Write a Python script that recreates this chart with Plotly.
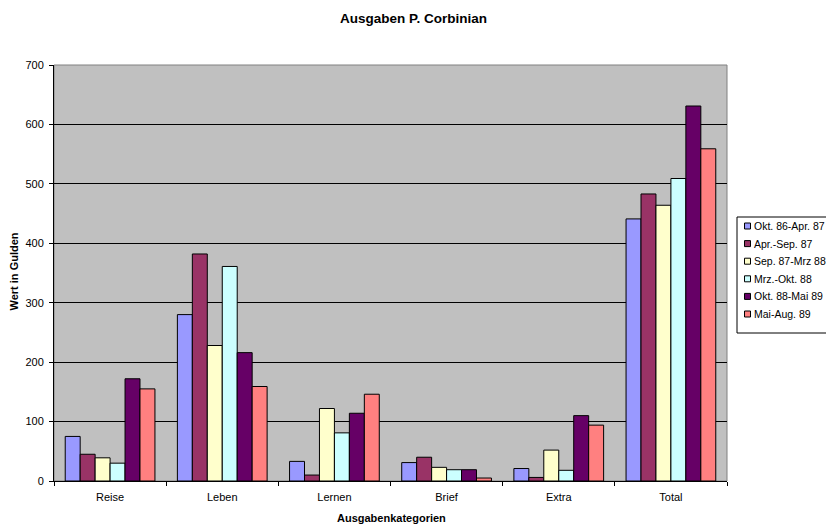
import plotly.graph_objects as go

categories = ["Reise", "Leben", "Lernen", "Brief", "Extra", "Total"]
series_names = ["Okt. 86-Apr. 87", "Apr.-Sep. 87", "Sep. 87-Mrz 88",
                "Mrz.-Okt. 88", "Okt. 88-Mai 89", "Mai-Aug. 89"]
okt86_apr87 = [75, 280, 33, 31, 21, 441]
apr_sep87 = [45, 382, 10, 40, 6, 483]
sep87_mrz88 = [39, 228, 122, 23, 52, 464]
mrz_okt88 = [30, 361, 81, 19, 18, 509]
okt88_mai89 = [172, 216, 114, 19, 110, 631]
mai_aug89 = [155, 159, 146, 5, 94, 559]
series_values = [okt86_apr87, apr_sep87, sep87_mrz88, mrz_okt88, okt88_mai89, mai_aug89]
colors = ["#9999FF", "#993366", "#FFFFCC", "#CCFFFF", "#660066", "#FF8080"]
y_ticks = [0, 100, 200, 300, 400, 500, 600, 700]

W, H = 826, 524
L, R, T, B = 54, 727, 65, 481
FONT = "Arial, Liberation Sans, sans-serif"

fig = go.Figure()
for name, vals, col in zip(series_names, series_values, colors):
    fig.add_trace(go.Bar(
        x=categories, y=vals, name=name,
        marker=dict(color=col, line=dict(color="black", width=1)),
        showlegend=False,
    ))

shapes = []
annotations = []
# plot area border (gray top/right)
shapes.append(dict(type="rect", xref="paper", yref="paper", x0=0, x1=1, y0=0, y1=1,
                   line=dict(color="#808080", width=1), fillcolor="rgba(0,0,0,0)", layer="below"))

# custom legend (container pixel positions converted to paper)
def px_x(px):
    return (px - L) / (R - L)

def px_y(py):
    return (B - py) / (B - T)

shapes.append(dict(type="rect", xref="paper", yref="paper",
                   x0=px_x(737), x1=px_x(840), y0=px_y(333), y1=px_y(217),
                   line=dict(color="black", width=1), fillcolor="white"))
row0, dy = 226, 17.6
for i, (name, col) in enumerate(zip(series_names, colors)):
    cy = row0 + i * dy
    shapes.append(dict(type="rect", xref="paper", yref="paper",
                       x0=px_x(744.5), x1=px_x(750.5), y0=px_y(cy + 3), y1=px_y(cy - 3),
                       line=dict(color="black", width=1), fillcolor=col))
    annotations.append(dict(xref="paper", yref="paper", x=px_x(752), y=px_y(cy),
                            xanchor="left", yanchor="middle", text=name, showarrow=False,
                            font=dict(family=FONT, size=10.5, color="black")))

# axis titles
annotations.append(dict(xref="paper", yref="paper", x=px_x(391), y=px_y(518),
                        xanchor="center", yanchor="middle", showarrow=False,
                        text="<b>Ausgabenkategorien</b>",
                        font=dict(family=FONT, size=11, color="black")))
annotations.append(dict(xref="paper", yref="paper", x=px_x(13.5), y=px_y(272),
                        xanchor="center", yanchor="middle", showarrow=False, textangle=-90,
                        text="<b>Wert in Gulden</b>",
                        font=dict(family=FONT, size=11, color="black")))

fig.update_layout(
    width=W, height=H,
    margin=dict(l=L, r=W - R, t=T, b=H - B, pad=0),
    paper_bgcolor="white", plot_bgcolor="#C0C0C0",
    barmode="group", bargap=0.2, bargroupgap=0,
    font=dict(family=FONT, size=11, color="black"),
    title=dict(text="<b>Ausgaben P. Corbinian</b>", x=px_x(413.5) * 0 + 413.5 / W, xref="container",
               y=1 - 18 / H, yref="container", xanchor="center", yanchor="middle",
               font=dict(family=FONT, size=13.5, color="black")),
    xaxis=dict(
        type="category", showline=True, linecolor="black", linewidth=1,
        ticks="outside", tickson="boundaries", ticklen=4, tickcolor="black",
        showgrid=False, ticklabelstandoff=6, automargin=False,
        tickfont=dict(family=FONT, size=11, color="black"),
    ),
    yaxis=dict(
        range=[0, 700], tickvals=y_ticks, showline=True, linecolor="black", linewidth=1,
        ticks="outside", ticklen=4, tickcolor="black", automargin=False,
        ticklabelstandoff=3,
        showgrid=True, gridcolor="black", gridwidth=1, zeroline=False,
        tickfont=dict(family=FONT, size=11, color="black"),
    ),
    shapes=shapes, annotations=annotations,
)

fig.write_html("out.html", config={"displayModeBar": False},
               post_script="document.body.style.margin='0';")
